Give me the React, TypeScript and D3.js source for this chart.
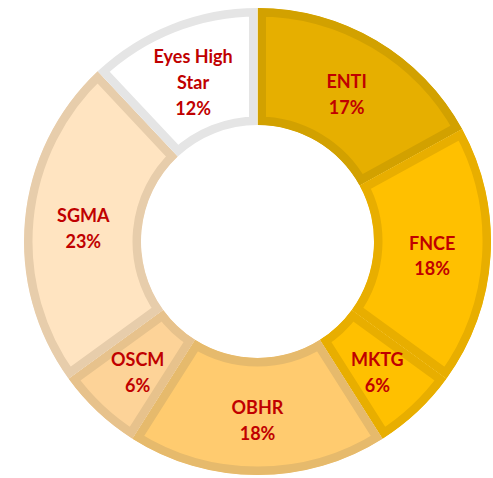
import React from 'react';
import * as d3 from 'd3';

const categories = ['ENTI', 'FNCE', 'MKTG', 'OBHR', 'OSCM', 'SGMA', 'Eyes High Star'];
const shares = [17, 18, 6, 18, 6, 23, 12];
const labelLines = [['ENTI'], ['FNCE'], ['MKTG'], ['OBHR'], ['OSCM'], ['SGMA'], ['Eyes High', 'Star']];
const fills = ['#E6AF00', '#FFC000', '#FFC000', '#FFCB6F', '#FDD398', '#FFE4C1', '#FFFFFF'];
const borders = ['#D2A100', '#E8AE00', '#E8AE00', '#E6BA6C', '#E7C28C', '#E7CDAB', '#E5E5E5'];

const W = 493;
const H = 478;
const cx = 257.5;
const cy = 241.5;
const outerR = 233.5;
const innerR = 116.5;

const App: React.FC = () => {
  const pie = d3
    .pie<number>()
    .sort(null)
    .value((d) => d);
  const arcs = pie(shares);
  const arc = d3.arc<d3.PieArcDatum<number>>().innerRadius(innerR).outerRadius(outerR);
  const labelArc = d3
    .arc<d3.PieArcDatum<number>>()
    .innerRadius((innerR + outerR) / 2)
    .outerRadius((innerR + outerR) / 2);
  const lineH = 26;

  return (
    <svg
      width={W}
      height={H}
      style={{ position: 'absolute', left: 0, top: 0, background: '#fff' }}
    >
      <defs>
        {arcs.map((a, i) => (
          <clipPath id={`clip-${i}`} key={i}>
            <path d={arc(a) || ''} />
          </clipPath>
        ))}
      </defs>
      <g transform={`translate(${cx},${cy})`}>
        {arcs.map((a, i) => (
          <g key={categories[i]} clipPath={`url(#clip-${i})`}>
            <path d={arc(a) || ''} fill={fills[i]} stroke={borders[i]} strokeWidth={17} />
          </g>
        ))}
        {arcs.map((a, i) => {
          const [x, y] = labelArc.centroid(a);
          const lines = [...labelLines[i], `${shares[i]}%`];
          const y0 = y + 3 - ((lines.length - 1) * lineH) / 2;
          return (
            <text
              key={`t-${i}`}
              x={x}
              textAnchor="middle"
              fontFamily="Lato, 'Open Sans', sans-serif"
              fontWeight="bold"
              fontSize={18}
              fill="#C00000"
            >
              {lines.map((l, j) => (
                <tspan key={j} x={x} y={y0 + j * lineH} dominantBaseline="central">
                  {l}
                </tspan>
              ))}
            </text>
          );
        })}
      </g>
    </svg>
  );
};

export default App;
